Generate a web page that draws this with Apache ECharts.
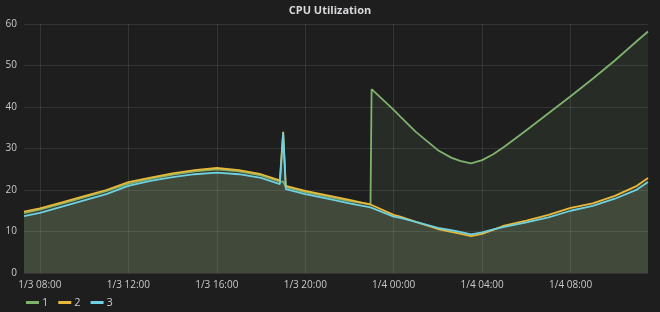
<!DOCTYPE html>
<html>
<head>
<meta charset="utf-8">
<script src="https://cdn.jsdelivr.net/npm/echarts@6/dist/echarts.min.js"></script>
<style>
html,body{margin:0;padding:0;background:#1e1e1f;}
#c{width:660px;height:312px;}
</style>
</head>
<body>
<div id="c"></div>
<script>
// time in hours since 1/3 00:00
const hours  = [7.28, 8, 9, 10, 11, 12, 13, 14, 15, 16, 17, 18, 18.85, 19.0, 19.12, 20, 21, 22, 22.95, 23.0, 24, 24.3, 25, 26, 26.6, 27, 27.5, 28, 28.5, 29, 30, 31, 32, 33, 34, 35, 35.5];
const series1 = [14.4, 15.3, 16.7, 18.2, 19.7, 21.5, 22.7, 23.7, 24.5, 25.0, 24.5, 23.5, 22.0, 22.0, 20.7, 19.5, 18.4, 17.3, 16.6, 44.3, 39.3, 37.7, 34.0, 29.6, 27.8, 27.0, 26.4, 27.2, 28.6, 30.4, 34.4, 38.5, 42.6, 46.8, 51.2, 55.9, 58.2];
const series2 = [14.8, 15.6, 17.0, 18.5, 20.0, 21.9, 23.0, 24.0, 24.8, 25.3, 24.8, 23.8, 22.3, 34.0, 21.0, 19.8, 18.7, 17.6, 16.5, 16.4, 14.0, 13.6, 12.3, 10.6, 9.9, 9.5, 8.9, 9.4, 10.4, 11.4, 12.6, 14.0, 15.7, 16.8, 18.6, 21.0, 22.9];
const series3 = [13.7, 14.5, 16.0, 17.5, 19.0, 21.0, 22.2, 23.1, 23.8, 24.2, 23.8, 22.9, 21.4, 33.8, 20.2, 19.0, 17.9, 16.8, 15.8, 15.7, 13.6, 13.3, 12.3, 10.9, 10.3, 9.9, 9.3, 9.8, 10.5, 11.1, 12.2, 13.4, 15.0, 16.2, 17.9, 20.1, 21.9];
const seriesNames = ['1', '2', '3'];
const xTicks = [8, 12, 16, 20, 24, 28, 32];
const colors = ['#7EB26D', '#EAB839', '#6ED0E0'];

function fmtTime(v) {
  const day = v >= 24 ? '1/4' : '1/3';
  const h = Math.round(v) % 24;
  return day + ' ' + (h < 10 ? '0' : '') + h + ':00';
}
function pairs(ys) { return hours.map((h, i) => [h, ys[i]]); }

const chart = echarts.init(document.getElementById('c'));
const all = [series1, series2, series3];
chart.setOption({
  backgroundColor: '#1e1e1f',
  animation: false,
  title: {
    text: 'CPU Utilization', left: 'center', top: 0,
    textStyle: {color: '#d8d9da', fontSize: 11, fontWeight: 'bold', fontFamily: 'Open Sans'}
  },
  legend: {
    left: 21, top: 292, itemWidth: 13, itemHeight: 3, itemGap: 10,
    icon: 'rect',
    textStyle: {color: '#c8c9ca', fontSize: 11, fontFamily: 'Open Sans', padding: [0,0,0,-2]},
    data: seriesNames
  },
  grid: {left: 24, right: 12, top: 24, bottom: 39},
  xAxis: {
    type: 'value', min: 7.28, max: 35.5,
    axisLine: {show: false},
    axisTick: {show: false, customValues: xTicks},
    axisLabel: {customValues: xTicks, formatter: fmtTime, color: '#c8c9ca', fontSize: 10, fontFamily: 'Open Sans', margin: 7},
    splitLine: {show: true, lineStyle: {color: 'rgba(255,255,255,0.1)', width: 1}}
  },
  yAxis: {
    type: 'value', min: 0, max: 60, interval: 10,
    axisLine: {show: false},
    axisTick: {show: false},
    axisLabel: {color: '#c8c9ca', fontSize: 10, fontFamily: 'Open Sans', margin: 7},
    splitLine: {show: true, lineStyle: {color: 'rgba(255,255,255,0.1)', width: 1}}
  },
  series: all.map((ys, i) => ({
    name: seriesNames[i], type: 'line', data: pairs(ys),
    showSymbol: false, symbol: 'none',
    lineStyle: {color: colors[i], width: 1.8},
    itemStyle: {color: colors[i]},
    areaStyle: {color: colors[i], opacity: 0.1}
  }))
});
</script>
</body>
</html>
